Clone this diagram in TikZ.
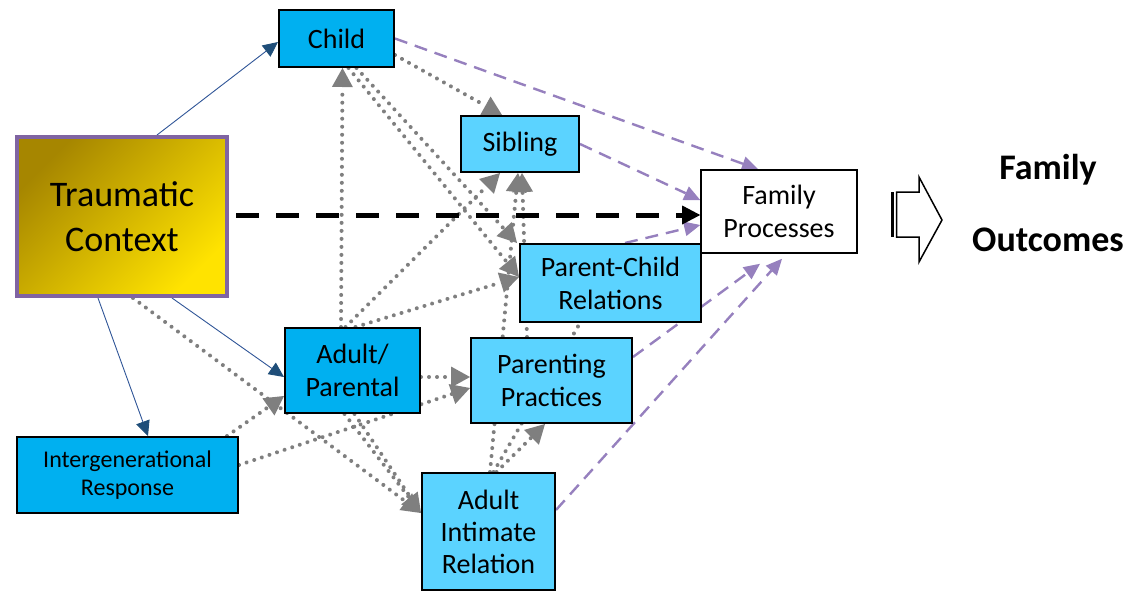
\documentclass[tikz,border=0pt]{standalone}
\usepackage{fontspec}
\setmainfont{Carlito}
\usetikzlibrary{arrows.meta}
\pgfdeclarelayer{bg}
\pgfsetlayers{bg,main}
\definecolor{dblue}{HTML}{00B0F0}
\definecolor{lblue}{HTML}{5BD3FF}
\definecolor{tcborder}{HTML}{8064A2}
\definecolor{goldA}{HTML}{A68600}
\definecolor{goldB}{HTML}{FFE300}
\definecolor{purp}{HTML}{9680BE}
\definecolor{navy}{HTML}{2F5597}
\definecolor{navyhead}{HTML}{1F4E79}
\definecolor{dotgray}{HTML}{7F7F7F}
\begin{document}
\begin{tikzpicture}[x=1pt,y=-1pt,
  box/.style={draw=black, line width=2pt, rectangle, align=center, inner sep=0pt,
    font=\fontsize{28}{33}\selectfont},
  dbox/.style={box, fill=dblue},
  lbox/.style={box, fill=lblue},
  solidarrow/.style={draw=navy, line width=0.9pt, -{Triangle[length=15pt,width=14pt,color=navyhead]}},
  dotline/.style={draw=dotgray, line width=4pt, line cap=round, dash pattern=on 0.01pt off 8pt},
  dotarrow/.style={dotline, -{Triangle[length=19pt,width=21pt,line width=0pt]}},
  purparrow/.style={draw=purp, line width=2.4pt, dash pattern=on 13pt off 8pt, -{Triangle[length=16pt,width=15pt,line width=0pt]}},
  bigdash/.style={draw=black, line width=5pt, dash pattern=on 23pt off 17pt, -{Triangle[length=18pt,width=19pt,line width=0pt]}},
]
\useasboundingbox (0,0) rectangle (1135,592);

% nodes
\node[draw=tcborder, line width=4pt, top color=goldA, bottom color=goldB, shading angle=45,
  minimum width=210pt, minimum height=159pt, inner sep=0pt, align=center,
  font=\fontsize{36}{45}\selectfont] (tc) at (122,216.5) {Traumatic\\Context};
\node[dbox, minimum width=115pt, minimum height=57pt] (child) at (336.5,38.5) {Child};
\node[lbox, minimum width=118pt, minimum height=56pt] (sib) at (520,144) {Sibling};
\node[box, fill=white, line width=1.6pt, minimum width=156pt, minimum height=83pt] (fp) at (779,211.5) {Family\\Processes};
\node[lbox, minimum width=181pt, minimum height=78pt] (pc) at (610.5,283) {Parent-Child\\Relations};
\node[dbox, minimum width=135pt, minimum height=85pt] (ap) at (352.5,370.5) {Adult/\\Parental};
\node[lbox, minimum width=161pt, minimum height=85pt] (pp) at (551.5,380.5) {Parenting\\Practices};
\node[dbox, minimum width=221pt, minimum height=76pt, font=\fontsize{24}{28.5}\selectfont] (ir) at (127.5,475) {Intergenerational\\Response};
\node[lbox, minimum width=133pt, minimum height=117pt, font=\fontsize{28}{32}\selectfont] (ai) at (488.5,531.5) {Adult\\Intimate\\Relation};
\node[align=center, inner sep=0pt, font=\fontsize{36}{72}\selectfont\bfseries] (out) at (1048,203) {Family\\Outcomes};

% striped block arrow
\fill[black] (891,192) rectangle (894,237);
\draw[black, line width=1.5pt, fill=white] (896.5,192) -- (919,192) -- (919,177) -- (942,220)
  -- (919,262) -- (919,237) -- (896.5,237) -- cycle;

\begin{pgfonlayer}{bg}
% gray dotted
\draw[dotarrow] ([xshift=-11.5pt]ap.north) -- ([xshift=6pt]child.south);
\draw[dotarrow] ([xshift=20pt]child.south) -- ([xshift=-2pt]pc.north west);
\draw[dotarrow] ([xshift=12pt]child.south) -- ([yshift=6pt]pc.west);
\draw[dotarrow] ([yshift=-16.5pt]child.east) -- ([xshift=-18pt]sib.north);
\draw[dotarrow] ([xshift=-7pt]ap.north) -- ([xshift=-20pt]sib.south);
\draw[dotarrow] ([xshift=3pt]ap.north) -- ([yshift=6pt]pc.west);
\draw[dotarrow] ([xshift=1.5pt]ai.north) -- ([xshift=-2pt]sib.south);
\draw[dotarrow] ([xshift=-24.5pt]pp.north) -- ([xshift=2pt]sib.south);
\draw[dotline] ([xshift=5pt]ai.north) -- ([xshift=-30.5pt]pc.south);
\draw[dotarrow] ([xshift=8pt]ai.north) -- ([xshift=-6.5pt]pp.south);
\draw[dotarrow] ([yshift=-6.5pt]ap.east) -- ([yshift=3.5pt]pp.west);
\draw[dotarrow] ([xshift=99.5pt]ir.north) -- ([yshift=-25.5pt]ap.west);
\draw[dotarrow] ([yshift=10pt]ir.east) -- ([yshift=-7.5pt]pp.west);
\draw[dotarrow] ([xshift=11pt]tc.south) -- ([yshift=18.5pt]ai.west);
\draw[dotarrow] ([xshift=-8pt]ap.south) -- ([yshift=18.5pt]ai.west);
\draw[dotline] ([xshift=2pt]ap.south) -- ([yshift=18.5pt]ai.west);
% purple dashed
\draw[purparrow] (child.east) -- ([xshift=-21pt]fp.north);
\draw[purparrow] (sib.east) -- ([yshift=11.5pt]fp.west);
\draw[purparrow] ([xshift=14.5pt]pc.north) -- ([yshift=-13.5pt]fp.west);
\draw[purparrow] ([yshift=23.5pt]pp.east) -- ([xshift=-19pt,yshift=-10pt]fp.south);
\draw[purparrow] ([yshift=21.5pt]ai.east) -- ([xshift=3pt,yshift=-5pt]fp.south);
% blue solid
\draw[solidarrow] ([xshift=35pt]tc.north) -- ([yshift=-3.5pt]child.west);
\draw[solidarrow] ([xshift=50pt]tc.south) -- ([yshift=-6.5pt]ap.west);
\draw[solidarrow] ([xshift=-24pt]tc.south) -- ([xshift=20.5pt]ir.north);
% black dashed
\draw[bigdash] ([xshift=7pt,yshift=1.5pt]tc.east) -- ([yshift=-3.5pt]fp.west);
\end{pgfonlayer}
\end{tikzpicture}
\end{document}
